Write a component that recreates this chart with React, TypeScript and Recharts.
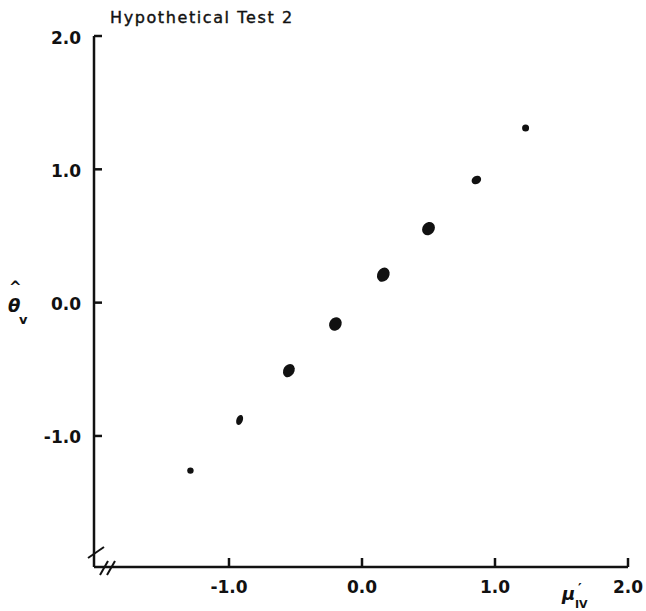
import React from 'react';
import { ScatterChart, Scatter, XAxis, YAxis } from 'recharts';

const muValues = [-1.29, -0.92, -0.55, -0.2, 0.16, 0.5, 0.86, 1.23];
const thetaValues = [-1.26, -0.88, -0.51, -0.16, 0.21, 0.555, 0.92, 1.31];
const xTicks = [-1, 0, 1, 2];
const yTicks = [-1, 0, 1, 2];

const data = muValues.map((x, i) => ({ x, y: thetaValues[i], i }));

// blob shapes of the printed dots (rx, ry, tilt)
const DOT_STYLE = [
    [3.2, 3.2, 0],
    [3.2, 5.2, 20],
    [5.5, 7, 30],
    [6, 7, 35],
    [6, 7.5, 30],
    [6, 7, 40],
    [4, 5, 60],
    [3.5, 3.5, 0],
];

const FONT = '"DejaVu Sans", sans-serif';
const INK = '#111';

const Dot = (props: any) => {
    const { cx, cy, payload } = props;
    const [rx, ry, rot] = DOT_STYLE[payload.i] || [3, 3, 0];
    return <ellipse cx={cx} cy={cy} rx={rx} ry={ry} fill={INK} transform={`rotate(${rot} ${cx} ${cy})`} />;
};

const YTick = (props: any) => {
    const { x, y, payload } = props;
    return (
        <g>
            <line x1={x} y1={y} x2={x + 8} y2={y} stroke={INK} strokeWidth={2.5} />
            <text x={x - 13} y={y + 7.5} textAnchor="end" fontFamily={FONT} fontWeight="bold" fontSize={17} fill={INK}>
                {payload.value.toFixed(1)}
            </text>
        </g>
    );
};

const XTick = (props: any) => {
    const { x, y, payload } = props;
    return (
        <g>
            <line x1={x} y1={y} x2={x} y2={y - 9} stroke={INK} strokeWidth={2.5} />
            <text x={x} y={y + 26} textAnchor="middle" fontFamily={FONT} fontWeight="bold" fontSize={17} fill={INK}>
                {payload.value.toFixed(1)}
            </text>
        </g>
    );
};

export default function App() {
    return (
        <div style={{ position: 'relative', width: 646, height: 611, background: '#fff' }}>
            <style>{'body { margin: 0; }'}</style>
            <div style={{ position: 'absolute', left: 8, top: 8 }}>
                <ScatterChart width={638} height={595} margin={{ top: 28, right: 18, bottom: 6, left: 40 }}>
                    <XAxis
                        type="number"
                        dataKey="x"
                        domain={[-2.015, 2]}
                        ticks={xTicks}
                        allowDataOverflow
                        height={30}
                        tickSize={0}
                        tickMargin={0}
                        tick={<XTick />}
                        axisLine={{ stroke: INK, strokeWidth: 2.5 }}
                    />
                    <YAxis
                        type="number"
                        dataKey="y"
                        domain={[-1.983, 2]}
                        ticks={yTicks}
                        allowDataOverflow
                        width={46}
                        tickSize={0}
                        tickMargin={0}
                        tick={<YTick />}
                        axisLine={{ stroke: INK, strokeWidth: 2.5 }}
                    />
                    <Scatter data={data} shape={<Dot />} isAnimationActive={false} />
                </ScatterChart>
            </div>
            <svg width={646} height={611} style={{ position: 'absolute', left: 0, top: 0, pointerEvents: 'none' }}>
                <g transform="translate(8 8)">
                    <text x={102} y={15} fontFamily={FONT} fontSize={16} letterSpacing={1.6} fill={INK} stroke={INK} strokeWidth={0.4}>
                        Hypothetical Test 2
                    </text>
                    {/* axis break marks */}
                    <g stroke={INK} strokeWidth={2}>
                        <line x1={80} y1={550} x2={96} y2={539} />
                        <line x1={92} y1={567} x2={100} y2={553} />
                        <line x1={99} y1={567} x2={107} y2={553} />
                    </g>
                    {/* y label: theta hat, sub v */}
                    <text fontFamily={FONT} fontWeight="bold" fill={INK}>
                        <tspan x={1} y={284} fontSize={15}>^</tspan>
                        <tspan x={0} y={304} fontSize={18} fontStyle="italic">θ</tspan>
                        <tspan x={11} y={316} fontSize={13}>v</tspan>
                    </text>
                    {/* x label: mu prime, sub IV */}
                    <text fontFamily={FONT} fontWeight="bold" fill={INK}>
                        <tspan x={554} y={592} fontSize={18} fontStyle="italic">μ</tspan>
                        <tspan x={570} y={585} fontSize={14}>′</tspan>
                        <tspan x={567} y={600} fontSize={11}>IV</tspan>
                    </text>
                </g>
            </svg>
        </div>
    );
}
